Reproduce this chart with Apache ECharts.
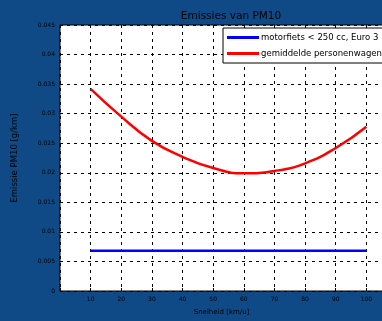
<!DOCTYPE html>
<html>
<head>
<meta charset="utf-8">
<script src="https://cdn.jsdelivr.net/npm/echarts@6/dist/echarts.min.js"></script>
<style>
html,body{margin:0;padding:0;background:#0F4A87;overflow:hidden;width:382px;height:321px;}
#c{width:420px;height:321px;}
</style>
</head>
<body>
<div id="c"></div>
<script>
var speeds = [10, 20, 30, 40, 50, 60, 70, 80, 90, 100];
var motorfiets = [0.0068, 0.0068, 0.0068, 0.0068, 0.0068, 0.0068, 0.0068, 0.0068, 0.0068, 0.0068];
var personenwagen = [0.0342, 0.0295, 0.0254, 0.0227, 0.0208, 0.0199, 0.0203, 0.0216, 0.0242, 0.0278];
var seriesNames = ['motorfiets < 250 cc, Euro 3', 'gemiddelde personenwagen'];
var yTicks = ['0','0.005','0.01','0.015','0.02','0.025','0.03','0.035','0.04','0.045'];

var chart = echarts.init(document.getElementById('c'));
var font = 'DejaVu Sans';
function pairs(xs, ys){ return xs.map(function(x,i){return [x, ys[i]];}); }
chart.setOption({
  backgroundColor: '#0F4A87',
  animation: false,
  title: {
    text: 'Emissies van PM10', left: 226, top: 6, textAlign: 'center',
    textStyle: {fontFamily: font, fontSize: 10.5, fontWeight: 'normal', color: '#000'}
  },
  legend: {
    left: 223, top: 28, orient: 'vertical',
    backgroundColor: '#fff', borderColor: '#000', borderWidth: 1,
    padding: [5, 4, 5, 4], itemGap: 7, itemWidth: 32, itemHeight: 3,
    textStyle: {fontFamily: font, fontSize: 8.5, color: '#000', padding: [0,0,0,-3]},
    icon: 'rect',
    data: seriesNames
  },
  grid: {left: 60, top: 25, width: 337, height: 266, show: true,
         backgroundColor: '#fff', borderColor: '#000', borderWidth: 1},
  xAxis: [{
    type: 'value', min: 0, max: 110, interval: 10,
    name: 'Snelheid [km/u]', nameLocation: 'middle', nameGap: 18,
    nameTextStyle: {fontFamily: font, fontSize: 7, color: '#000', padding: [0, 14, 0, 0]},
    axisLine: {show: false},
    axisTick: {show: true, inside: true, length: 3, lineStyle: {color: '#000'}},
    axisLabel: {fontFamily: font, fontSize: 6, color: '#000', margin: 5,
      formatter: function(v){ return (v === 0 || v === 110) ? '' : String(v); }},
    splitLine: {show: true, lineStyle: {color: '#000', type: [3, 4], width: 1}}
  }, {
    type: 'value', min: 0, max: 110, interval: 10, position: 'top',
    axisLine: {show: false}, axisLabel: {show: false}, splitLine: {show: false},
    axisTick: {show: true, inside: true, length: 3, lineStyle: {color: '#000'}}
  }],
  yAxis: [{
    type: 'value', min: 0, max: 0.045, interval: 0.005,
    name: 'Emissie PM10 [g/km]', nameLocation: 'middle', nameGap: 41,
    nameTextStyle: {fontFamily: font, fontSize: 8.5, color: '#000'},
    axisLine: {show: false},
    axisTick: {show: true, inside: true, length: 3, lineStyle: {color: '#000'}},
    axisLabel: {fontFamily: font, fontSize: 6, color: '#000', margin: 5,
      formatter: function(v){ var i = Math.round(v/0.005); return yTicks[i]; }},
    splitLine: {show: true, lineStyle: {color: '#000', type: [3, 4], width: 1}}
  }],
  series: [{
    name: seriesNames[0], type: 'line', data: pairs(speeds, motorfiets),
    showSymbol: false, symbol: 'none', lineStyle: {color: '#0000FF', width: 2.5}, itemStyle: {color: '#0000FF'}
  }, {
    name: seriesNames[1], type: 'line', data: pairs(speeds, personenwagen), smooth: true,
    showSymbol: false, symbol: 'none', lineStyle: {color: '#FF0000', width: 2.5}, itemStyle: {color: '#FF0000'}
  }]
});
</script>
</body>
</html>
